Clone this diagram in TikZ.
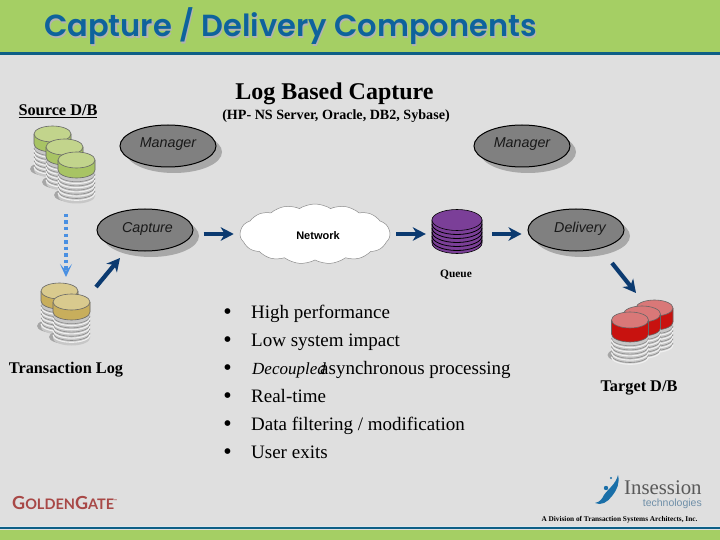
\documentclass[tikz,border=0pt]{standalone}
\usepackage{fontspec}
\setmainfont{Liberation Serif}
\setsansfont{Liberation Sans}
\newfontfamily\ttlfont{Poppins SemiBold}
\newfontfamily\logofont{Lato}
\usetikzlibrary{arrows.meta,shapes.geometric,shapes.symbols}
\definecolor{bggray}{HTML}{DFDFDF}
\definecolor{bandgreen}{HTML}{A5CF64}
\definecolor{ruleblue}{HTML}{0E5F86}
\definecolor{titleblue}{HTML}{0E639C}
\definecolor{navy}{HTML}{0B3A70}
\definecolor{dotblue}{HTML}{4A90E2}
\definecolor{ellfill}{HTML}{808080}
\definecolor{ellshadow}{HTML}{A8A8A8}
\definecolor{purp}{HTML}{7B3F98}
\definecolor{srctop}{HTML}{C2D48C}
\definecolor{srcband}{HTML}{A8C464}
\definecolor{logtop}{HTML}{D9CA8E}
\definecolor{logband}{HTML}{C8AE5C}
\definecolor{tgttop}{HTML}{D97878}
\definecolor{tgtband}{HTML}{C8120F}
\definecolor{swoosh}{HTML}{1A6FA8}
\definecolor{ggred}{HTML}{A84846}
\definecolor{techblue}{HTML}{6F8FA8}
\newcommand{\fs}[1]{\fontsize{#1}{#1}\selectfont}
\newcommand{\dbcan}[5]{% x,y,top,band,bandedge
  \begin{scope}[shift={(#1,#2)}]
    \fill[black!35] (-4,35) ellipse [x radius=18.5,y radius=7];
    \fill[black!22] (-18.5,0) -- (-18.5,36) arc[start angle=180,end angle=0,x radius=18.5,y radius=7.5] -- (18.5,0) -- cycle;
    \foreach \k in {1,2,3,4,5}{
      \draw[black!45,line width=.6] (-18.5,{#5+\k*4.2}) arc[start angle=180,end angle=0,x radius=18.5,y radius=7.5];
      \draw[black!6,line width=1.1] (-18.5,{#5+\k*4.2+1.8}) arc[start angle=180,end angle=0,x radius=18.5,y radius=7.5];
    }
    \fill[#4] (-18.5,0) -- (-18.5,#5) arc[start angle=180,end angle=0,x radius=18.5,y radius=8] -- (18.5,0) -- cycle;
    \draw[black!60,line width=.6] (-18.5,0) -- (-18.5,#5) arc[start angle=180,end angle=0,x radius=18.5,y radius=8] -- (18.5,0);
    \draw[black!60,line width=.6,fill=#3] (0,0) ellipse [x radius=18.5,y radius=8];
  \end{scope}}
\tikzset{
  svc/.style={ellipse,draw=black,line width=1,fill=ellfill,minimum width=96,minimum height=42,inner sep=0},
  svctext/.style={inner sep=0,font=\sffamily\itshape\fs{14.3},text=black!90},
  bigarrow/.style={navy,line width=4.2,-{Stealth[length=13,width=13.5,inset=4]}},
  lbl/.style={inner sep=0,font=\bfseries\fs{16.3}},
  bul/.style={inner sep=0,anchor=base west,font=\fs{19}},
  dotb/.style={inner sep=0,font=\fs{24}},
}
\newcommand{\shadowell}[2]{\fill[ellshadow] (#1+6,#2+6) ellipse [x radius=48,y radius=21];}
\begin{document}
\begin{tikzpicture}[x=1pt,y=-1pt]
\useasboundingbox (0,0) rectangle (720,540);
\fill[bggray] (0,0) rectangle (720,540);
\fill[bandgreen] (0,0) rectangle (720,52.5);
\fill[ruleblue] (0,52.5) rectangle (720,55.5);
\fill[white!70!ruleblue!50] (0,525.5) rectangle (720,527);
\fill[ruleblue] (0,527) rectangle (720,529);
\fill[bandgreen] (0,529.5) rectangle (720,540);
% title
\node[inner sep=0,anchor=base west,font=\ttlfont\fs{30.5},text=black!30] at (45.2,38.2) {Capture / Delivery Components};
\node (title) [inner sep=0,anchor=base west,font=\ttlfont\fs{30.5},text=titleblue] at (44,37) {Capture / Delivery Components};
% headings
\node (heading) [inner sep=0,font=\bfseries\fs{24}] at (334.5,94) {Log Based Capture};
\node (subhead) [inner sep=0,font=\bfseries\fs{14.1}] at (336,116) {(HP- NS Server, Oracle, DB2, Sybase)};
\node (srclabel) [lbl] at (58,111) {\underline{Source D/B}};
\node (tloglabel) [lbl] at (66,370) {Transaction Log};
\node (tgtlabel) [lbl] at (639,388) {Target D/B};
\node (queuelabel) [inner sep=0,font=\bfseries\fs{11.4}] at (456,275) {Queue};
% services
\shadowell{168}{146}\shadowell{522}{146}\shadowell{145}{230}\shadowell{576}{230}
\node[svc] (mgr1) at (168,146) {};
\node[svc] (mgr2) at (522,146) {};
\node[svc] (capture) at (145,230) {};
\node[svc] (delivery) at (576,230) {};
\node[svctext] (mgr1t) at (168,144.5) {Manager};
\node[svctext] (mgr2t) at (522,144.5) {Manager};
\node[svctext] (capt) at (147.5,228.5) {Capture};
\node[svctext] (delt) at (580,228.5) {Delivery};
% network
\node[cloud,cloud puffs=15,cloud puff arc=65,aspect=2.5,draw=black!45,line width=.5,fill=white,minimum width=150,minimum height=60,inner sep=0] (network) at (315,234) {};
\node (nettext) [inner sep=0,font=\sffamily\bfseries\fs{11}] at (318,235.5) {Network};
% queue
\node[inner sep=0,minimum width=50,minimum height=44] (queue) at (457,231) {};
\begin{scope}[shift={(457,220)}]
  \draw[black,line width=.6,fill=purp] (-25,0) -- (-25,23) arc[start angle=180,end angle=0,x radius=25,y radius=10.5] -- (25,0) -- cycle;
  \foreach \k in {4,8,12,16,20}{
    \draw[black,line width=.8] (-25,\k) arc[start angle=180,end angle=0,x radius=25,y radius=10.5];
  }
  \draw[black,line width=.6,fill=purp] (0,0) ellipse [x radius=25,y radius=10.5];
\end{scope}
% databases
\dbcan{52.5}{134}{srctop}{srcband}{10}
\dbcan{64.5}{147}{srctop}{srcband}{10}
\dbcan{76.5}{160}{srctop}{srcband}{10}
\dbcan{59.5}{291}{logtop}{logband}{10}
\dbcan{71.5}{302}{logtop}{logband}{10}
\dbcan{654.5}{308}{tgttop}{tgtband}{14}
\dbcan{642}{314}{tgttop}{tgtband}{14}
\dbcan{630}{320}{tgttop}{tgtband}{14}
% connectors
\coordinate (arrowrow) at (0,234);
\coordinate (srcout) at (66,214);
\coordinate (tlogin) at (66,277);
\coordinate (tlogout) at (96,287);
\coordinate (capin) at (120,258);
\coordinate (delout) at (612,263);
\coordinate (tgtin) at (636,293);
\draw[dotblue,line width=3.5,dash pattern=on 3.5 off 3,-{Stealth[length=13,width=12,inset=7]}] (srcout) -- (tlogin);
\draw[bigarrow,shorten <=10,shorten >=6] (capture.east |- arrowrow) -- (network.west |- arrowrow);
\draw[bigarrow,shorten <=6,shorten >=6] (network.east |- arrowrow) -- (queue.west |- arrowrow);
\draw[bigarrow,shorten <=10,shorten >=6] (queue.east |- arrowrow) -- (delivery.west |- arrowrow);
\draw[bigarrow] (tlogout) -- (capin);
\draw[bigarrow] (delout) -- (tgtin);
% bullets
\foreach \yy in {312,340,368,396,424,452}{\node[dotb] at (227.5,\yy+2.5) {•};}
\node[bul] (b1) at (251,318) {High performance};
\node[bul] (b2) at (251,346) {Low system impact};
\node[bul,font=\itshape\fs{17}] (b3) at (252,374) {Decoupled};
\node[bul] (b3b) at (320,374) {asynchronous processing};
\node[bul] (b4) at (251,402) {Real-time};
\node[bul] (b5) at (251,430) {Data filtering / modification};
\node[bul] (b6) at (251,458) {User exits};
% logos
\node (gg) [inner sep=0,anchor=base west,text=ggred,font=\logofont\bfseries] at (12,509.5) {{\fs{18}G}{\fs{14.5}OLDEN}{\fs{18}G}{\fs{14.5}ATE}\raisebox{7pt}{\fs{4}™}};
\node (ins) [inner sep=0,anchor=base west,text=black!65,font=\fs{20.8}] at (624,494) {Insession};
\node (tech) [inner sep=0,anchor=base east,text=techblue,font=\sffamily\fs{10.5}] at (702,506) {technologies};
\fill[swoosh] (618,475) .. controls (620,483) and (617,490) .. (612,496) .. controls (608,502) and (601,506) .. (595,503) .. controls (600,502) and (602,499) .. (604,495) .. controls (608,489) and (616,484) .. (618,475) -- cycle;
\fill[swoosh] (606,488) circle [radius=2.2];
\fill[swoosh] (611,478) circle [radius=1.2];
\node (foot) [inner sep=0,font=\bfseries\fs{7.3}] at (619.5,519.5) {A Division of Transaction Systems Architects, Inc.};
\end{tikzpicture}
\end{document}
